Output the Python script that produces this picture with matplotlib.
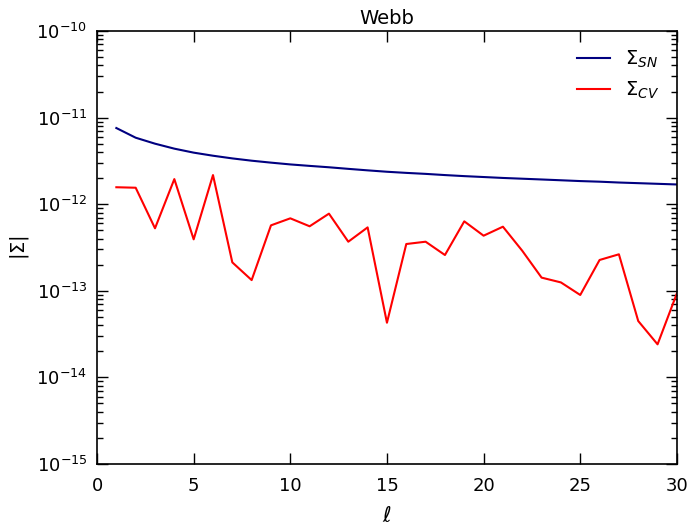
import numpy as np
import matplotlib
matplotlib.use("Agg")
import matplotlib.pyplot as plt
from matplotlib.ticker import LogLocator

ell = list(range(1, 31))
sigma_sn = [7.58e-12, 5.86e-12, 5.0e-12, 4.38e-12, 3.94e-12, 3.63e-12, 3.38e-12, 3.18e-12,
            3.02e-12, 2.88e-12, 2.77e-12, 2.67e-12, 2.56e-12, 2.46e-12, 2.37e-12, 2.30e-12,
            2.24e-12, 2.17e-12, 2.11e-12, 2.06e-12, 2.01e-12, 1.97e-12, 1.93e-12, 1.89e-12,
            1.85e-12, 1.82e-12, 1.78e-12, 1.75e-12, 1.72e-12, 1.69e-12]
sigma_cv = [1.57e-12, 1.55e-12, 5.27e-13, 1.95e-12, 3.93e-13, 2.17e-12, 2.13e-13, 1.33e-13,
            5.7e-13, 6.87e-13, 5.56e-13, 7.78e-13, 3.69e-13, 5.4e-13, 4.28e-14, 3.47e-13,
            3.69e-13, 2.59e-13, 6.34e-13, 4.33e-13, 5.5e-13, 2.9e-13, 1.42e-13, 1.25e-13,
            8.95e-14, 2.27e-13, 2.64e-13, 4.48e-14, 2.41e-14, 9.35e-14]
xticks = [0, 5, 10, 15, 20, 25, 30]
yticks = [1e-15, 1e-14, 1e-13, 1e-12, 1e-11, 1e-10]

plt.rcParams['font.family'] = ['DejaVu Sans']
plt.rcParams['mathtext.fontset'] = 'dejavusans'
plt.rcParams['font.size'] = 13

fig = plt.figure(figsize=(6.9, 5.3), dpi=100)
ax = fig.add_axes([0.1406, 0.1245, 0.8404, 0.817])
ax.plot(ell, sigma_sn, color='navy', lw=1.5, label=r'$\Sigma_{SN}$')
ax.plot(ell, sigma_cv, color='red', lw=1.5, label=r'$\Sigma_{CV}$')
ax.set_yscale('log')
ax.set_ylim(1e-15, 1e-10)
ax.set_xlim(0, 30)
ax.set_xticks(xticks)
ax.set_yticks(yticks)
ax.yaxis.set_minor_locator(LogLocator(base=10, subs=np.arange(2, 10), numticks=10))
ax.tick_params(which='both', direction='in', top=True, right=True)
ax.tick_params(which='major', length=8, width=1)
ax.tick_params(axis='x', which='major', pad=9)
ax.tick_params(axis='y', which='major', pad=7)
ax.tick_params(which='minor', length=4, width=1)
for s in ax.spines.values():
    s.set_linewidth(1.2)
ax.set_title('Webb', fontsize=14, pad=5)
ax.set_xlabel(r'$\ell$', fontsize=15, labelpad=8)
ax.set_ylabel(r'$|\Sigma|$', fontsize=14)
ax.legend(loc='upper right', frameon=False, fontsize=14, handlelength=1.7)
fig.savefig('out.png', dpi=100)
